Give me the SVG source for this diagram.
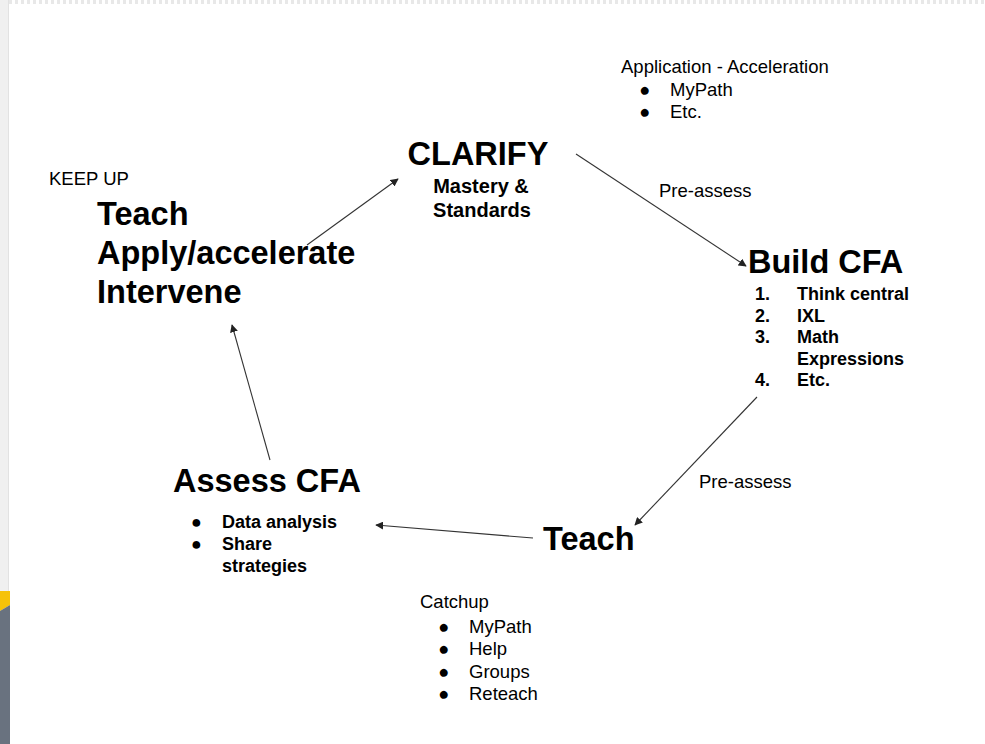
<svg xmlns="http://www.w3.org/2000/svg" width="985" height="744" viewBox="0 0 985 744">
<defs>
<style>
text{font-family:"Liberation Sans",Arial,sans-serif;fill:#000}
.h{font-size:32.5px;font-weight:bold}
.b{font-size:18px;font-weight:bold}
.sb{font-size:20px;font-weight:bold}
.r{font-size:18.5px}
.c{fill:none;stroke:#333;stroke-width:1.1;marker-end:url(#ah)}
</style>
<marker id="ah" viewBox="0 0 10 10" refX="9" refY="5" markerWidth="8" markerHeight="8" markerUnits="userSpaceOnUse" orient="auto">
<path d="M0,0 L10,5 L0,10 Z" fill="#222"/>
</marker>
</defs>
<rect x="0" y="0" width="985" height="744" fill="#fff"/>
<g id="frame">
<rect x="0" y="0" width="8" height="744" fill="#f0f0f0"/>
<line x1="8.5" y1="0" x2="8.5" y2="744" stroke="#e2e2e2" stroke-width="1"/>
<line x1="9" y1="2" x2="985" y2="2" stroke="#e8e8e8" stroke-width="4" stroke-dasharray="3 3"/>
<polygon points="0,591 10,591 10,605 0,611" fill="#f6c209"/>
<polygon points="0,611 10,605 10,744 0,744" fill="#69727f"/>
</g>
<g id="connectors">
<line class="c" x1="307" y1="245" x2="398" y2="179"/>
<line class="c" x1="576" y1="154" x2="746" y2="266"/>
<line class="c" x1="757" y1="397" x2="635" y2="525"/>
<line class="c" x1="533" y1="538" x2="376" y2="525"/>
<line class="c" x1="270" y1="460" x2="232" y2="325"/>
<text class="r" x="659" y="197">Pre-assess</text>
<text class="r" x="699" y="488">Pre-assess</text>
</g>
<g id="application">
<text class="r" x="621" y="73">Application - Acceleration</text>
<text class="r" x="639" y="96">●</text><text class="r" x="670" y="96">MyPath</text>
<text class="r" x="639" y="118">●</text><text class="r" x="670" y="118">Etc.</text>
</g>
<g id="clarify">
<text class="h" x="478" y="165" text-anchor="middle">CLARIFY</text>
<text class="sb" x="481" y="193" text-anchor="middle">Mastery &amp;</text>
<text class="sb" x="482" y="217" text-anchor="middle">Standards</text>
</g>
<g id="keep-up">
<text class="r" x="49" y="185">KEEP UP</text>
<text class="h" x="97" y="225">Teach</text>
<text class="h" x="97" y="264">Apply/accelerate</text>
<text class="h" x="97" y="303">Intervene</text>
</g>
<g id="build-cfa">
<text class="h" x="748" y="273">Build CFA</text>
<text class="b" x="755" y="300">1.</text><text class="b" x="797" y="300">Think central</text>
<text class="b" x="755" y="322">2.</text><text class="b" x="797" y="322">IXL</text>
<text class="b" x="755" y="343">3.</text><text class="b" x="797" y="343">Math</text>
<text class="b" x="797" y="365">Expressions</text>
<text class="b" x="755" y="386">4.</text><text class="b" x="797" y="386">Etc.</text>
</g>
<g id="teach">
<text class="h" x="543" y="550">Teach</text>
</g>
<g id="assess-cfa">
<text class="h" x="173" y="492">Assess CFA</text>
<text class="b" x="191" y="528">●</text><text class="b" x="222" y="528">Data analysis</text>
<text class="b" x="191" y="550">●</text><text class="b" x="222" y="550">Share</text>
<text class="b" x="222" y="572">strategies</text>
</g>
<g id="catchup">
<text class="r" x="420" y="608">Catchup</text>
<text class="r" x="438" y="633">●</text><text class="r" x="469" y="633">MyPath</text>
<text class="r" x="438" y="655">●</text><text class="r" x="469" y="655">Help</text>
<text class="r" x="438" y="678">●</text><text class="r" x="469" y="678">Groups</text>
<text class="r" x="438" y="700">●</text><text class="r" x="469" y="700">Reteach</text>
</g>
</svg>
